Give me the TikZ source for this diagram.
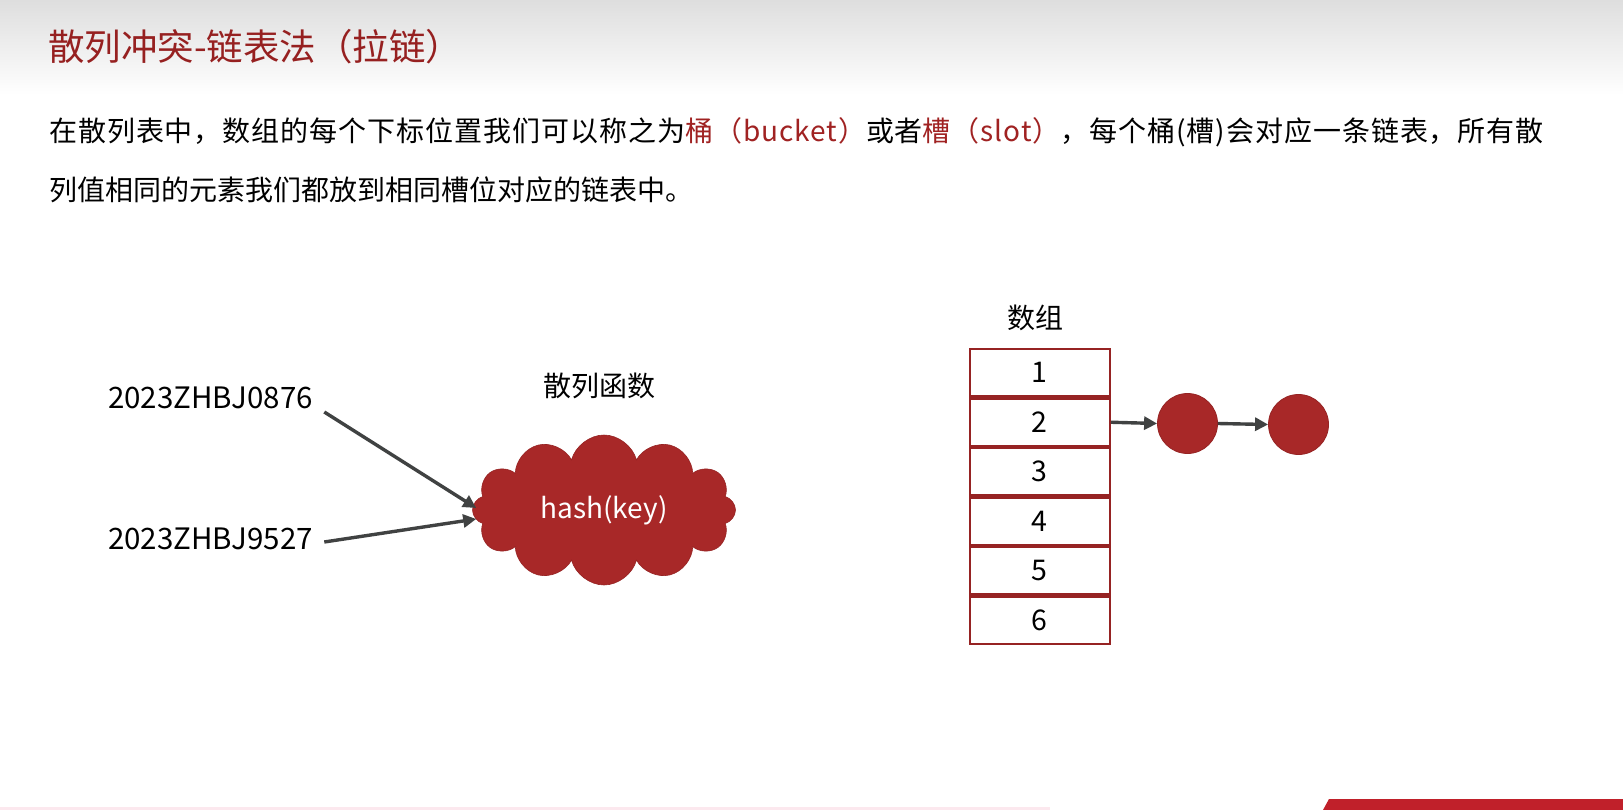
\documentclass[tikz,border=0pt]{standalone}
\usepackage{fontspec}
\setmainfont{Noto Sans CJK SC}
\usetikzlibrary{shapes.symbols,arrows.meta,calc}
\definecolor{titlered}{RGB}{150,32,32}
\definecolor{accentred}{RGB}{160,34,34}
\definecolor{boxred}{RGB}{168,40,40}
\definecolor{edgered}{RGB}{150,35,35}
\definecolor{arrowgray}{RGB}{64,66,66}
\definecolor{headgray}{RGB}{222,222,222}
\definecolor{barred}{RGB}{192,32,42}
\definecolor{pinkband}{RGB}{252,232,238}
\begin{document}
\begin{tikzpicture}[x=1pt,y=-1pt,
  txt/.style={inner sep=0pt,font=\fontsize{28}{34}\selectfont},
  keytxt/.style={inner sep=0pt,font=\fontsize{29.5}{34}\selectfont},
  ttl/.style={inner sep=0pt,text=titlered,font=\fontsize{36.5}{42}\selectfont},
  cell/.style={draw=edgered,line width=2.4pt,fill=white,minimum width=140pt,minimum height=47.8pt,inner sep=0pt,font=\fontsize{28.5}{34}\selectfont},
  ball/.style={circle,fill=boxred,draw=edgered,line width=0.8pt,minimum size=60pt,inner sep=0pt},
  link/.style={draw=arrowgray,line width=3.4pt,-{Triangle[length=13pt,width=13pt]}},
]
% canvas and slide frame
\useasboundingbox (0,0) rectangle (1623,810);
\fill[white] (0,0) rectangle (1623,810);
\shade[top color=headgray,bottom color=white] (0,0) rectangle (1623,95);
\fill[pinkband] (0,807) rectangle (1050,810);
\fill[barred] (1323,810) -- (1329,799) -- (1623,799) -- (1623,810) -- cycle;

% heading and explanation
\node[ttl,anchor=west] (title) at (48,47) {散列冲突-链表法（拉链）};
\node[txt,anchor=west] (line1) at (49,132) {\addfontfeature{LetterSpace=3.4}在散列表中，数组的每个下标位置我们可以称之为\textcolor{accentred}{桶（bucket）}或者\textcolor{accentred}{槽（slot）}，每个桶(槽)会对应一条链表，所有散};
\node[txt,anchor=west] (line2) at (49,190) {列值相同的元素我们都放到相同槽位对应的链表中。};

% keys and hash function
\node[keytxt,anchor=west] (key1) at (108,398) {2023ZHBJ0876};
\node[keytxt,anchor=west] (key2) at (108,539) {2023ZHBJ9527};
\node[txt] (fnlabel) at (599,386) {散列函数};
\node[cloud,cloud puffs=12,aspect=1.75,fill=boxred,draw=edgered,line width=0.6pt,
      minimum width=263pt,minimum height=150pt,inner sep=0pt,
      text=white,font=\fontsize{28}{32}\selectfont] (hash) at (604,510) {hash(key)};
\draw[link] ($(key1.east)+(11,14)$) -- ($(hash.west)+(4,-2)$);
\draw[link] ($(key2.east)+(11,3)$) -- ($(hash.west)+(4,9)$);

% bucket array
\node[txt] (arrlabel) at (1035,318) {数组};
\foreach \i/\y in {1/372.75,2/422.25,3/471.75,4/521.25,5/570.75,6/620.25}
  \node[cell] (c\i) at (1039.75,\y) {\i};

% chain attached to bucket 2
\node[ball] (n1) at (1187.5,423.5) {};
\node[ball] (n2) at (1298.5,424.5) {};
\draw[link] (c2.east) -- (n1.west);
\draw[link] (n1.east) -- (n2.west);
\end{tikzpicture}
\end{document}
